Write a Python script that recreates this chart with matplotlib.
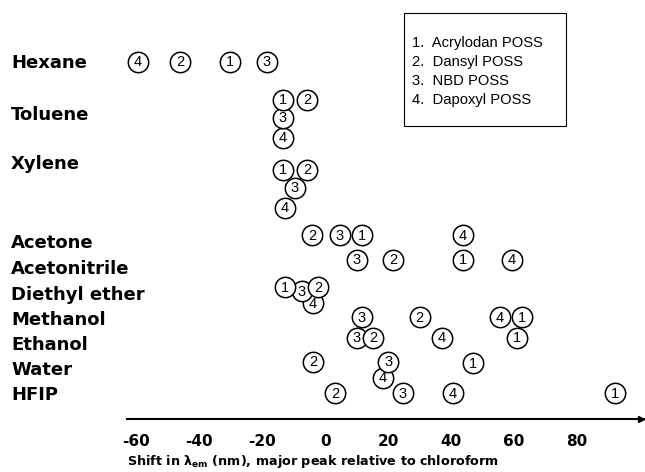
import numpy as np
import matplotlib.pyplot as plt
from matplotlib.patches import Rectangle

plt.rcParams['mathtext.fontset'] = 'dejavusans'
plt.rcParams['axes.unicode_minus'] = False

# solvents (rows) and where each row label sits (pixels from top)
solvents = ['Hexane', 'Toluene', 'Xylene', 'Acetone', 'Acetonitrile',
            'Diethyl ether', 'Methanol', 'Ethanol', 'Water', 'HFIP']
label_y = [63, 115, 164, 243, 269, 295, 320, 345, 370, 395]

# shift in emission maximum (nm) relative to chloroform, per probe
shift_1 = [-30.3, -13.4, -13.4, 11.7, 43.8, -12.8, 62.6, 61.0, 47.0, 92.1]
shift_2 = [-46.2, -5.8, -5.8, -4.2, 21.6, -2.3, 30.1, 15.2, -3.9, 3.1]
shift_3 = [-18.5, -13.4, -9.6, 4.7, 10.1, -7.4, 11.7, 10.1, 20.0, 24.7]
shift_4 = [-59.5, -13.4, -12.8, 43.8, 59.4, -3.9, 55.5, 37.1, 18.4, 40.6]

# vertical place of each circle (pixels from top), stacked where they collide
y_1 = [62, 100, 170, 235, 260, 287, 317, 338, 363, 393]
y_2 = [62, 100, 170, 235, 260, 287, 317, 338, 362, 393]
y_3 = [62, 118, 188, 235, 260, 291, 317, 338, 362, 393]
y_4 = [62, 138, 208, 235, 260, 303, 317, 338, 378, 393]

probes = ['Acrylodan POSS', 'Dansyl POSS', 'NBD POSS', 'Dapoxyl POSS']
xticks = [-60, -40, -20, 0, 20, 40, 60, 80]

W, H = 645, 472
fig = plt.figure(figsize=(W / 100, H / 100), dpi=100)
ax = fig.add_axes([127 / W, (H - 419) / H, (W - 127) / W, 419 / H])
ax.set_xlim(-63.0, 101.7)
ax.set_ylim(419, 0)

series = {1: (shift_1, y_1), 2: (shift_2, y_2), 3: (shift_3, y_3), 4: (shift_4, y_4)}
# draw order decides which circle lies on top where they overlap
for z, k in enumerate([4, 3, 1, 2]):
    xs, ys = series[k]
    ax.scatter(xs, ys, s=215, facecolor='white', edgecolor='black',
               linewidth=1.1, zorder=3 + 2 * z, clip_on=False)
    for x, y in zip(xs, ys):
        ax.text(x, y + 0.5, str(k), ha='center', va='center', fontsize=10.5,
                family='Liberation Sans', zorder=4 + 2 * z)

for name, ly in zip(solvents, label_y):
    ax.annotate(name, xy=(11, ly), xycoords=('figure pixels', 'data'),
                ha='left', va='center', fontsize=13, fontweight='bold')

for s in ['top', 'left', 'right']:
    ax.spines[s].set_visible(False)
ax.spines['bottom'].set_linewidth(1.5)
ax.plot(0.993, 0, marker='>', color='black', markersize=5,
        transform=ax.transAxes, clip_on=False)

ax.set_yticks([])
ax.set_xticks(xticks)
ax.tick_params(axis='x', length=0, pad=11, labelsize=11)
for lbl in ax.get_xticklabels():
    lbl.set_fontweight('bold')
ax.set_xlabel(r'Shift in $\mathbf{\lambda}_{\mathbf{em}}$ (nm), major peak relative to chloroform',
              loc='left', fontsize=9.2, fontweight='bold', labelpad=3)

# key box
fig.add_artist(Rectangle((404 / W, (H - 126) / H), 162 / W, 113 / H,
                         transform=fig.transFigure, fill=False,
                         edgecolor='black', linewidth=0.8))
for i, p in enumerate(probes):
    fig.text(412 / W, 1 - (43 + 19 * i) / H, f'{i + 1}.  {p}', ha='left', va='center',
             fontsize=10.6, family='Liberation Sans')

fig.savefig('out.png', dpi=100)
